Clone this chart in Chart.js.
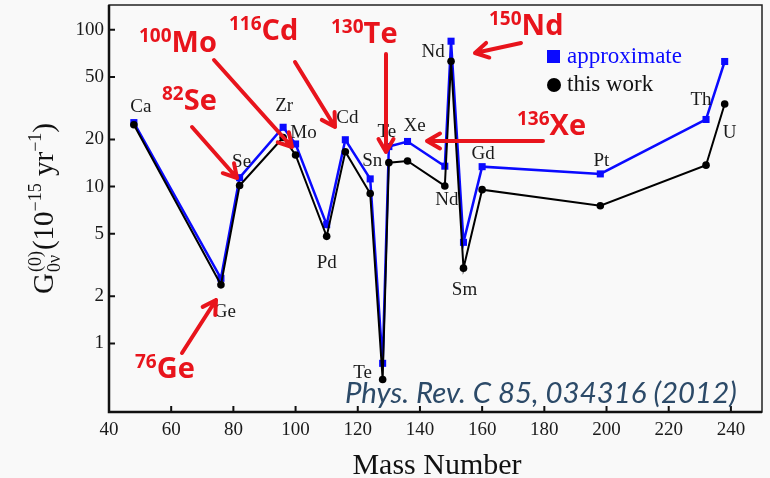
<!DOCTYPE html>
<html>
<head>
<meta charset="utf-8">
<script src="https://cdn.jsdelivr.net/npm/chart.js@4.4.1/dist/chart.umd.min.js"></script>
<style>
  html, body { margin: 0; padding: 0; background: #f8f8f8; }
  #wrap { width: 770px; height: 478px; position: relative; }
</style>
</head>
<body>
<div id="wrap"><canvas id="chart" width="770" height="478"></canvas></div>
<script>
// Mass numbers of the double-beta-decay candidates
const massNumbers = [48, 76, 82, 96, 100, 110, 116, 124, 128, 130, 136, 148, 150, 154, 160, 198, 232, 238];
const nuclei      = ['Ca', 'Ge', 'Se', 'Zr', 'Mo', 'Pd', 'Cd', 'Sn', 'Te', 'Te', 'Xe', 'Nd', 'Nd', 'Sm', 'Gd', 'Pt', 'Th', 'U'];
// Phase-space factors G(0)_0v in units of 1e-15 / yr
const thisWork    = [24.81, 2.363, 10.16, 20.58, 15.92, 4.815, 16.70, 9.040, 0.5878, 14.22, 14.58, 10.10, 63.03, 3.019, 9.559, 7.556, 13.70, 33.61];
const approximate = [25.6, 2.60, 11.4, 23.9, 18.7, 5.72, 19.9, 11.2, 0.746, 18.0, 19.4, 13.5, 84.6, 4.41, 13.4, 12.05, 26.8, 62.8];
const xTicks = [40, 60, 80, 100, 120, 140, 160, 180, 200, 220, 240];
const yTicks = [1, 2, 5, 10, 20, 50, 100];

// Label placement relative to the "this work" marker (px)
const labelOffsets = [[7,-18],[4,27],[2,-24],[1,-31],[8,-22],[0,27],[2,-34],[2,-32],[-20,-7],[-2,-31],[7,-35],[2,14],[-18,-9],[1,22],[1,-36],[1,-45],[-5,-65],[5,29]];

// Highlighted isotopes: mass number, symbol, text anchor, arrow start, arrow tip
const callouts = [
  { a: '100', s: 'Mo', x: 139, y: 52,  from: [214, 60],  to: [292, 147] },
  { a: '82',  s: 'Se', x: 162, y: 110, from: [192, 127], to: [237, 178] },
  { a: '116', s: 'Cd', x: 229, y: 40,  from: [295, 62],  to: [335, 127] },
  { a: '130', s: 'Te', x: 331, y: 43,  from: [386, 54],  to: [386, 152] },
  { a: '150', s: 'Nd', x: 489, y: 35,  from: [521, 43],  to: [475, 53] },
  { a: '136', s: 'Xe', x: 517, y: 135, from: [543, 141], to: [427, 141] },
  { a: '76',  s: 'Ge', x: 135, y: 378, from: [182, 353], to: [216, 300] }
];

const BLUE = '#0a0aff';
const RED = '#e8141c';
const SERIF = '"Liberation Serif", "DejaVu Serif", serif';

function toPoints(vals) { return massNumbers.map((m, i) => ({ x: m, y: vals[i] })); }

function arrow(ctx, from, to) {
  const ang = Math.atan2(to[1] - from[1], to[0] - from[0]);
  const head = 15, spread = Math.PI / 6;
  ctx.beginPath();
  ctx.moveTo(from[0], from[1]);
  ctx.lineTo(to[0], to[1]);
  ctx.moveTo(to[0] - head * Math.cos(ang - spread), to[1] - head * Math.sin(ang - spread));
  ctx.lineTo(to[0], to[1]);
  ctx.lineTo(to[0] - head * Math.cos(ang + spread), to[1] - head * Math.sin(ang + spread));
  ctx.stroke();
}

const decorations = {
  id: 'decorations',
  beforeDraw(chart) {
    const ctx = chart.ctx;
    ctx.save();
    ctx.fillStyle = '#f9f9f9';
    ctx.fillRect(0, 0, chart.width, chart.height);
    ctx.restore();
  },
  afterDatasetsDraw(chart) {
    const ctx = chart.ctx;
    const a = chart.chartArea;
    const xs = chart.scales.x, ys = chart.scales.y;
    ctx.save();

    // frame
    ctx.strokeStyle = '#222';
    ctx.lineWidth = 1.5;
    ctx.strokeRect(a.left, a.top, a.right - a.left, a.bottom - a.top);
    ctx.lineWidth = 2.5;
    ctx.strokeStyle = '#111';
    ctx.beginPath();
    ctx.moveTo(a.left, a.top);
    ctx.lineTo(a.left, a.bottom);
    ctx.lineTo(a.right, a.bottom);
    ctx.stroke();

    // inward tick marks
    ctx.lineWidth = 2;
    ctx.beginPath();
    yTicks.forEach(v => {
      const py = ys.getPixelForValue(v);
      ctx.moveTo(a.left, py); ctx.lineTo(a.left + 6, py);
    });
    xTicks.forEach(v => {
      const px = xs.getPixelForValue(v);
      ctx.moveTo(px, a.bottom); ctx.lineTo(px, a.bottom - 6);
    });
    ctx.stroke();

    // nucleus labels
    const meta = chart.getDatasetMeta(0);
    ctx.fillStyle = '#1a1a1a';
    ctx.font = '19px ' + SERIF;
    ctx.textAlign = 'center';
    ctx.textBaseline = 'middle';
    nuclei.forEach((n, i) => {
      const pt = meta.data[i];
      ctx.fillText(n, pt.x + labelOffsets[i][0], pt.y + labelOffsets[i][1]);
    });

    // legend
    ctx.fillStyle = BLUE;
    ctx.fillRect(547, 50, 13, 13);
    ctx.fillStyle = '#000';
    ctx.beginPath();
    ctx.arc(554, 85, 7, 0, Math.PI * 2);
    ctx.fill();
    ctx.font = '23px ' + SERIF;
    ctx.textAlign = 'left';
    ctx.textBaseline = 'alphabetic';
    ctx.fillStyle = BLUE;
    ctx.fillText(chart.data.datasets[1].label, 567, 63);
    ctx.fillStyle = '#111';
    ctx.fillText(chart.data.datasets[0].label, 567, 91);

    // highlighted isotopes
    ctx.strokeStyle = RED;
    ctx.fillStyle = RED;
    ctx.lineWidth = 4;
    ctx.lineCap = 'round';
    ctx.lineJoin = 'round';
    callouts.forEach(c => {
      ctx.font = 'bold 19px "Open Sans", sans-serif';
      ctx.fillText(c.a, c.x, c.y - 10);
      const w = ctx.measureText(c.a).width;
      ctx.font = 'bold 29px "Open Sans", sans-serif';
      ctx.fillText(c.s, c.x + w, c.y);
      arrow(ctx, c.from, c.to);
    });

    // citation
    const cite = 'Phys. Rev. C 85, 034316 (2012)';
    ctx.font = 'italic 26px Lato, sans-serif';
    const cw = ctx.measureText(cite).width;
    const fs = 26 * 392 / cw;
    ctx.font = 'italic ' + fs.toFixed(2) + 'px Lato, sans-serif';
    ctx.fillStyle = '#2c4a68';
    ctx.fillText(cite, 345, 403);

    // x-axis title
    ctx.fillStyle = '#111';
    ctx.font = '30px ' + SERIF;
    ctx.textAlign = 'center';
    ctx.fillText('Mass Number', 437, 474);

    // y-axis title with super/subscripts
    ctx.translate(53, (a.top + a.bottom) / 2);
    ctx.rotate(-Math.PI / 2);
    const big = '29px ' + SERIF, small = '18px ' + SERIF;
    const parts = [
      { t: 'G', f: big, dy: 0 },
      { stack: [{ t: '(0)', dy: -12 }, { t: '0\u03BD', dy: 7 }] },
      { t: '(10', f: big, dy: 0 },
      { t: '\u221215', f: small, dy: -12 },
      { t: ' yr', f: big, dy: 0 },
      { t: '\u22121', f: small, dy: -12 },
      { t: ')', f: big, dy: 0 }
    ];
    let total = 0;
    const widths = parts.map(p => {
      let w;
      if (p.stack) { ctx.font = small; w = Math.max(...p.stack.map(s => ctx.measureText(s.t).width)) + 2; }
      else { ctx.font = p.f; w = ctx.measureText(p.t).width; }
      total += w; return w;
    });
    let cx = -total / 2;
    ctx.textAlign = 'left';
    parts.forEach((p, i) => {
      if (p.stack) {
        ctx.font = small;
        p.stack.forEach(s => ctx.fillText(s.t, cx + 1, s.dy));
      } else {
        ctx.font = p.f;
        ctx.fillText(p.t, cx, p.dy);
      }
      cx += widths[i];
    });
    ctx.restore();
  }
};

new Chart(document.getElementById('chart'), {
  type: 'line',
  data: {
    datasets: [
      {
        label: 'this work',
        data: toPoints(thisWork),
        borderColor: '#000',
        backgroundColor: '#000',
        borderWidth: 2,
        pointStyle: 'circle',
        pointRadius: 3.8,
        pointBorderWidth: 0,
        tension: 0
      },
      {
        label: 'approximate',
        data: toPoints(approximate),
        borderColor: BLUE,
        backgroundColor: BLUE,
        borderWidth: 2.5,
        pointStyle: 'rect',
        pointRadius: 5,
        pointBorderWidth: 0,
        tension: 0
      }
    ]
  },
  options: {
    responsive: false,
    animation: false,
    events: [],
    layout: { padding: { left: 0, right: 8, top: 5, bottom: 0 } },
    plugins: { legend: { display: false }, tooltip: { enabled: false } },
    scales: {
      x: {
        type: 'linear',
        min: 40,
        max: 250,
        afterBuildTicks: s => { s.ticks = xTicks.map(v => ({ value: v })); },
        afterFit: s => { s.height = 66; s.paddingLeft = 0; s.paddingRight = 0; },
        grid: { display: false, drawTicks: false },
        border: { display: false },
        ticks: { color: '#1a1a1a', font: { family: SERIF, size: 19 }, padding: 7, maxRotation: 0, autoSkip: false }
      },
      y: {
        type: 'logarithmic',
        min: 0.365,
        max: 144,
        afterBuildTicks: s => { s.ticks = yTicks.map(v => ({ value: v })); },
        afterFit: s => { s.width = 109; s.paddingTop = 0; s.paddingBottom = 0; },
        grid: { display: false, drawTicks: false },
        border: { display: false },
        ticks: { color: '#1a1a1a', font: { family: SERIF, size: 19 }, padding: 5, autoSkip: false, callback: v => String(v) }
      }
    }
  },
  plugins: [decorations]
});
</script>
</body>
</html>
